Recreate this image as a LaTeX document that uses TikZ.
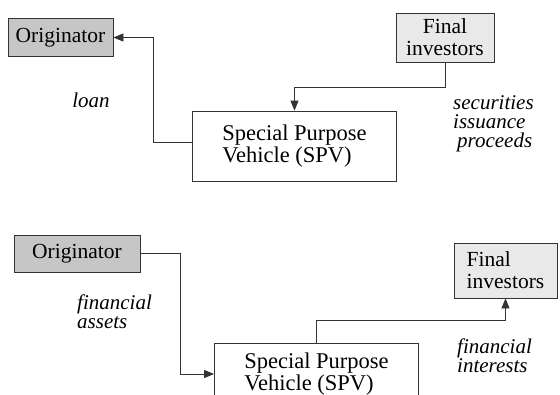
\documentclass[tikz,border=0pt]{standalone}
\usepackage{fontspec}
\setmainfont{Liberation Serif}
\usetikzlibrary{arrows.meta}
\begin{document}
\begin{tikzpicture}[
          x = 1pt, y = -1pt,
          box/.style = {draw = black!80, line width = 0.8pt, inner sep = 0pt},
          orig/.style = {box, fill = gray!45, minimum width = 105pt, minimum height = 38pt,
            font = \fontsize{21.5}{22}\selectfont},
          inv/.style = {box, fill = gray!17, align = center, font = \fontsize{21.5}{22}\selectfont},
          spv/.style = {box, fill = white, align = left, minimum width = 204pt,
            font = \fontsize{22.5}{22}\selectfont},
          lbl/.style = {inner sep = 0pt, align = left, font = \fontsize{21}{19}\selectfont\itshape},
          conn/.style = {draw = black!80, line width = 0.8pt, -{Triangle[length = 10pt, width = 8pt]}},
        ]
          \useasboundingbox (0,0) rectangle (560,394);
          \node[orig] (o1) at (60.5,37.5) {Originator};
          \node[spv, minimum height = 70pt] (s1) at (294.5,146) {Special Purpose\\Vehicle (SPV)};
          \node[inv, minimum width = 98pt, minimum height = 49pt] (f1) at (445,37.5) {Final\\investors};
          \node[lbl] (l1) at (91,100) {loan};
          \node[lbl, anchor = west] (l2) at (453,124) {securities\\issuance\\\hspace{4pt}proceeds};
          \draw[conn] (f1.south) -- ++(0,25) -| (s1.north);
          \draw[conn] ([yshift = 4pt]s1.west) -- ++(-39,0) |- (o1.east);

          \node[orig, minimum width = 126pt, minimum height = 37pt] (o2) at (77,253.5) {Originator};
          \node[spv, minimum height = 62pt] (s2) at (316.5,374) {Special Purpose\\Vehicle (SPV)};
          \node[inv, align = left, minimum width = 103pt, minimum height = 55pt] (f2) at (505.5,270.5) {Final\\investors};
          \node[lbl, anchor = west] (l3) at (77,312) {financial\\assets};
          \node[lbl, anchor = west] (l4) at (457,356) {financial\\interests};
          \draw[conn] (o2.east) -- ++(40,0) |- (s2.west);
          \draw[conn] (s2.north) -- ++(0,-22) -| (f2.south);
        \end{tikzpicture}
\end{document}
